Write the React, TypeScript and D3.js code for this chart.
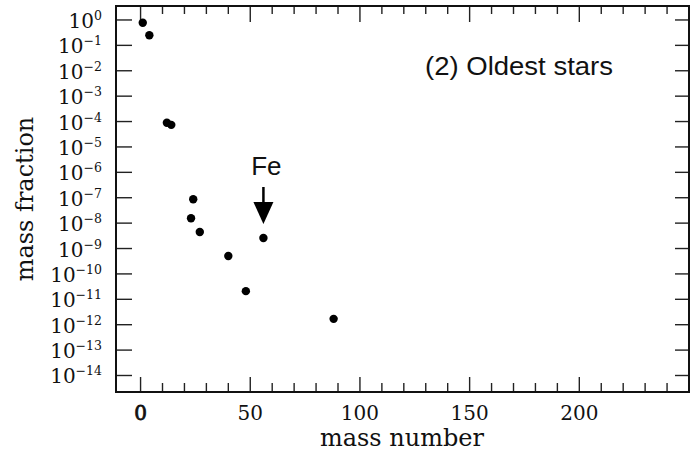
import React from "react";
import * as d3 from "d3";

const massNumbers = [1, 4, 12, 14, 23, 24, 27, 40, 48, 56, 88];
const massFractions = [0.78, 0.25, 9.0e-5, 7.4e-5, 1.55e-8, 8.7e-8, 4.5e-9, 5.1e-10, 2.1e-11, 2.6e-9, 1.7e-12];
const yExponents = [0, -1, -2, -3, -4, -5, -6, -7, -8, -9, -10, -11, -12, -13, -14];
const xTickLabels = [0, 50, 100, 150, 200];
const panelTitle = "(2) Oldest stars";
const annotationLabel = "Fe";
const annotationMass = 56;
const xTitle = "mass number";
const yTitle = "mass fraction";

const W = 690;
const H = 456;
const L = 116, R = 689, T = 6, B = 392;

export default function App() {
  const x = d3.scaleLinear().domain([-11.2, 250]).range([L, R]);
  const y = d3.scaleLog().domain([Math.pow(10, -14.65), Math.pow(10, 0.55)]).range([B, T]);

  const minor = d3.range(0, 250, 10);
  const serif = "'DejaVu Serif', serif";
  const sans = "'Liberation Sans', Arial, sans-serif";
  const feIdx = massNumbers.indexOf(annotationMass);
  const feX = x(annotationMass);
  const feY = y(massFractions[feIdx]);
  const tipY = feY - 14;

  return (
    <svg width={W} height={H} style={{ position: "absolute", left: 0, top: 0, background: "#fff" }}>
      <rect x={0} y={0} width={W} height={H} fill="#fff" />
      {/* x ticks bottom and top */}
      {minor.map((v) => {
        const major = v % 50 === 0;
        return (
          <g key={"xt" + v} stroke="#222" strokeWidth={1.4}>
            <line x1={x(v)} x2={x(v)} y1={B} y2={B - (major ? 15 : 9)} />
            <line x1={x(v)} x2={x(v)} y1={T} y2={T + (major ? 16 : 8)} />
          </g>
        );
      })}
      {/* y ticks left and right */}
      {yExponents.map((e) => (
        <g key={"yt" + e} stroke="#222" strokeWidth={1.4}>
          <line x1={L} x2={L + 16} y1={y(Math.pow(10, e))} y2={y(Math.pow(10, e))} />
          <line x1={R} x2={R - 14} y1={y(Math.pow(10, e))} y2={y(Math.pow(10, e))} />
        </g>
      ))}
      {/* frame */}
      <rect x={L} y={T} width={R - L} height={B - T} fill="none" stroke="#111" strokeWidth={2} />
      {/* y tick labels */}
      {yExponents.map((e) => (
        <text
          key={"yl" + e}
          x={102}
          y={y(Math.pow(10, e)) + 8}
          textAnchor="end"
          fontFamily={serif}
          fontSize={20}
          fill="#111"
        >
          10
          <tspan fontSize={12.5} dy={-8}>
            {e < 0 ? "\u2212" + Math.abs(e) : String(e)}
          </tspan>
        </text>
      ))}
      {/* x tick labels */}
      {xTickLabels.map((v) => (
        <text
          key={"xl" + v}
          x={x(v)}
          y={420}
          textAnchor="middle"
          fontFamily={serif}
          fontSize={20}
          fill="#111"
          stroke={v === 0 ? "#111" : "none"}
          strokeWidth={v === 0 ? 0.8 : 0}
        >
          {v}
        </text>
      ))}
      {/* axis titles */}
      <text x={402} y={446} textAnchor="middle" fontFamily={serif} fontSize={24} fill="#111">
        {xTitle}
      </text>
      <text
        transform={`translate(33,199) rotate(-90)`}
        textAnchor="middle"
        fontFamily={serif}
        fontSize={24}
        fill="#111"
      >
        {yTitle}
      </text>
      {/* points */}
      {massNumbers.map((a, i) => (
        <circle key={"p" + i} cx={x(a)} cy={y(massFractions[i])} r={4.2} fill="#000" />
      ))}
      {/* annotation */}
      <text x={feX + 3} y={175} textAnchor="middle" fontFamily={sans} fontSize={26} fill="#111">
        {annotationLabel}
      </text>
      <line x1={feX} x2={feX} y1={187} y2={tipY - 18} stroke="#000" strokeWidth={2.5} />
      <path
        d={`M${feX - 10},${tipY - 22} L${feX + 10},${tipY - 22} L${feX},${tipY} Z`}
        fill="#000"
      />
      <text
        x={425}
        y={75}
        fontFamily={sans}
        fontSize={26}
        fill="#111"
        textLength={188}
        lengthAdjust="spacingAndGlyphs"
      >
        {panelTitle}
      </text>
    </svg>
  );
}
